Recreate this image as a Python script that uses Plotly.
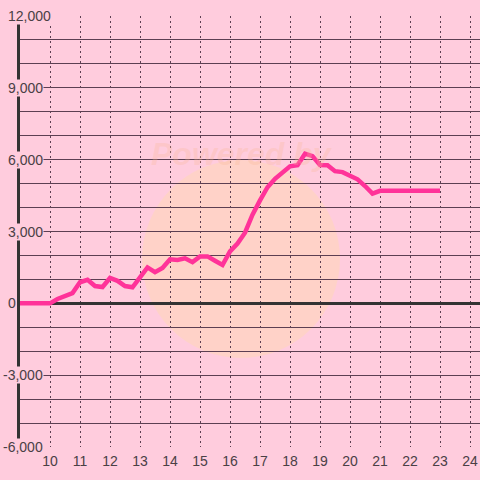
import plotly.graph_objects as go

# data
hours = [9.0, 9.25, 9.5, 9.75, 10.0, 10.25, 10.5, 10.75, 11.0, 11.25, 11.5, 11.75,
         12.0, 12.25, 12.5, 12.75, 13.0, 13.25, 13.5, 13.75, 14.0, 14.25, 14.5, 14.75,
         15.0, 15.25, 15.5, 15.75, 16.0, 16.25, 16.5, 16.75, 17.0, 17.25, 17.5, 17.75,
         18.0, 18.25, 18.5, 18.75, 19.0, 19.25, 19.5, 19.75, 20.0, 20.25, 20.5, 20.75,
         21.0, 21.25, 21.5, 21.75, 22.0, 22.25, 22.5, 22.75, 23.0]
values = [0, 0, 0, 0, 0, 180, 300, 430, 880, 980, 720, 680,
          1060, 940, 720, 670, 1080, 1500, 1300, 1480, 1840, 1810, 1880, 1720,
          1960, 1960, 1780, 1600, 2170, 2500, 2950, 3700, 4300, 4850, 5200, 5450,
          5720, 5770, 6250, 6150, 5780, 5770, 5520, 5480, 5320, 5180, 4900, 4580,
          4700, 4700, 4700, 4700, 4700, 4700, 4700, 4700, 4700]

x_ticks = list(range(10, 25))
y_ticks = [12000, 9000, 6000, 3000, 0, -3000, -6000]
y_labels = ["12,000", "9,000", "6,000", "3,000", "0", "-3,000", "-6,000"]

BG = "#ffccdd"
GRID = "#5c3f52"
TXT = "#4a4045"

fig = go.Figure()
fig.add_trace(go.Scatter(x=hours, y=values, mode="lines",
                         line=dict(color="#ff3399", width=4.5),
                         hoverinfo="skip", showlegend=False))

# watermark-ish circle and text
fig.add_shape(type="circle", xref="paper", yref="paper",
              x0=(142 - 20) / 460, x1=(340 - 20) / 460,
              y0=(447 - 358) / 431, y1=(447 - 160) / 431,
              fillcolor="rgba(255,220,170,0.4)", line_width=0, layer="below")
fig.add_annotation(text="<b><i>Powered by</i></b>", xref="paper", yref="paper",
                   x=(242 - 20) / 460, y=(447 - 134) / 431, showarrow=False,
                   font=dict(size=32, color="rgba(250,185,150,0.28)",
                             family="Liberation Sans, Arial"))

# y tick labels sit over the axis line with a background
for v, lab in zip(y_ticks, y_labels):
    left = 2 if v < 0 else 7
    fig.add_annotation(text=lab, xref="paper", yref="y", x=(left - 20) / 460, y=v,
                       xanchor="left", yanchor="middle", showarrow=False,
                       bgcolor=BG, borderpad=0,
                       font=dict(size=14, color=TXT, family="Liberation Sans, Arial"))

fig.update_layout(
    width=480, height=480,
    paper_bgcolor=BG, plot_bgcolor=BG,
    margin=dict(l=20, r=0, t=16, b=33),
    font=dict(family="Liberation Sans, Arial", size=14, color=TXT),
    xaxis=dict(range=[9, 24.333], tickvals=x_ticks, showgrid=True,
               gridcolor=GRID, griddash="2px,3px", gridwidth=1, automargin=False,
               zeroline=False, showline=False, ticks="", ticklabelstandoff=4,
               tickfont=dict(size=14, color=TXT)),
    yaxis=dict(range=[-6000, 12000], dtick=1000, showticklabels=False,
               showgrid=True, gridcolor=GRID, gridwidth=1, automargin=False,
               zeroline=True, zerolinecolor="#333333", zerolinewidth=3,
               showline=True, linecolor="#333333", linewidth=3, ticks=""),
)

# drop the default page margin so the figure sits at the window corner
fig.write_html("out.html", config={"displayModeBar": False},
               post_script="document.body.style.margin='0';")
